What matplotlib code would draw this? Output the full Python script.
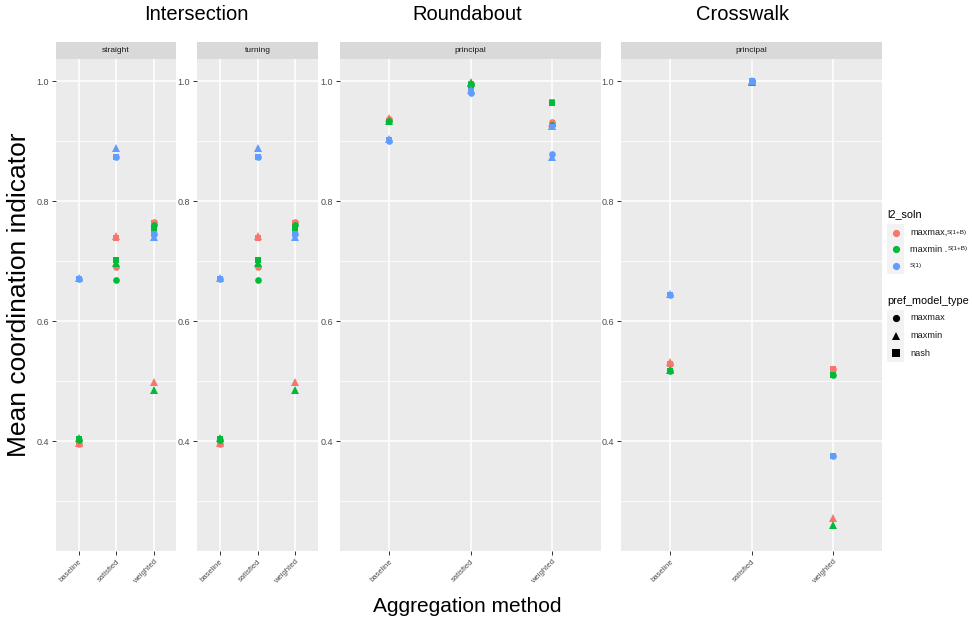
import numpy as np
import matplotlib.pyplot as plt

plt.rcParams['font.family'] = ['Liberation Sans', 'DejaVu Sans']

W, H = 972, 622
nan = np.nan

methods = ["baseline", "satisfied", "weighted"]
shape_labels = ["maxmax", "maxmin", "nash"]

# rows: circle (maxmax), triangle (maxmin), square (nash); columns follow methods
int_maxmax = [[0.395, 0.690, 0.766], [0.397, 0.742, 0.498], [0.396, 0.739, 0.763]]
int_maxmin = [[0.402, 0.669, 0.761], [0.405, 0.697, 0.486], [0.403, 0.702, 0.756]]
int_s1 = [[0.670, 0.873, 0.745], [0.672, 0.889, 0.740], [0.670, 0.873, 0.745]]

rb_maxmax = [[0.937, 0.996, 0.932], [0.938, 0.998, 0.930], [0.934, 0.995, 0.966]]
rb_maxmin = [[0.933, 0.995, 0.927], [0.934, 0.997, 0.926], [0.932, 0.994, 0.964]]
rb_s1 = [[0.901, 0.980, 0.879], [0.903, 0.986, 0.873], [0.902, 0.984, 0.924]]

cw_maxmax = [[0.529, 1.000, 0.521], [0.532, 1.000, 0.272], [0.529, 1.000, 0.521]]
cw_maxmin = [[0.517, 1.000, 0.511], [0.519, 0.998, 0.260], [0.517, 1.000, 0.511]]
cw_s1 = [[0.643, 1.000, 0.375], [0.645, 1.000, nan], [0.643, 1.000, 0.375]]

colors = ["#F8766D", "#00BA38", "#619CFF"]
markers = [("o", 4.8), ("^", 6.0), ("s", 5.0)]


def px(x0, y0, x1, y1):
    return [x0 / W, 1 - y1 / H, (x1 - x0) / W, (y1 - y0) / H]


fig = plt.figure(figsize=(W / 100, H / 100), dpi=100)

panels = [
    ("straight", 56, 176, [int_maxmax, int_maxmin, int_s1]),
    ("turning", 197, 318, [int_maxmax, int_maxmin, int_s1]),
    ("principal", 340, 601, [rb_maxmax, rb_maxmin, rb_s1]),
    ("principal", 621, 882, [cw_maxmax, cw_maxmin, cw_s1]),
]

xs = np.arange(1, len(methods) + 1)
for strip, x0, x1, groups in panels:
    ax = fig.add_axes(px(x0, 59, x1, 551))
    ax.set_facecolor("#EBEBEB")
    ax.set_xlim(0.4, 3.6)
    ax.set_ylim(0.217, 1.037)
    ax.set_yticks([0.4, 0.6, 0.8, 1.0])
    ax.set_yticks([0.3, 0.5, 0.7, 0.9], minor=True)
    ax.set_xticks(xs)
    ax.set_xticklabels(methods, rotation=45, ha="right", va="top",
                       rotation_mode="anchor", fontsize=5.5, color="#4D4D4D")
    ax.tick_params(axis="x", length=3, width=0.7, color="#333333", pad=2)
    ax.tick_params(axis="y", which="major", length=3, width=0.7, color="#333333",
                   labelsize=6.5, labelcolor="#4D4D4D", pad=2)
    ax.tick_params(axis="y", which="minor", length=0)
    ax.set_yticklabels(["0.4", "0.6", "0.8", "1.0"])
    ax.grid(True, which="major", color="white", linewidth=1.1)
    ax.grid(True, which="minor", axis="y", color="white", linewidth=0.55)
    ax.set_axisbelow(True)
    for s in ax.spines.values():
        s.set_visible(False)
    for c, grp in zip(colors, groups):
        for (m, ms), vals in zip(markers, grp):
            ax.plot(xs, vals, linestyle="none", marker=m, markersize=ms,
                    color=c, markeredgewidth=0, zorder=3)

    sax = fig.add_axes(px(x0, 42, x1, 59))
    sax.set_facecolor("#D9D9D9")
    sax.set_xticks([])
    sax.set_yticks([])
    for s in sax.spines.values():
        s.set_visible(False)
    sax.text(0.5, 0.5, strip, ha="center", va="center", fontsize=6,
             color="#1A1A1A", transform=sax.transAxes)

# plot titles
for label, xc in [("Intersection", 196), ("Roundabout", 467), ("Crosswalk", 743)]:
    fig.text(xc / W, 1 - 15 / H, label, ha="center", va="center", fontsize=14.5)

fig.text(19 / W, 1 - 295 / H, "Mean coordination indicator", rotation=90,
         ha="center", va="center", fontsize=19)
fig.text(467 / W, 1 - 606 / H, "Aggregation method", ha="center", va="center",
         fontsize=15)

# legends
fig.text(887 / W, 1 - 214 / H, "l2_soln", ha="left", va="center", fontsize=7.8)
lax = fig.add_axes(px(884, 224, 970, 365))
lax.set_xlim(884, 970)
lax.set_ylim(365, 224)
lax.axis("off")
soln_main = ["maxmax,", "maxmin .", ""]
soln_sub = ["S(1+B)", "S(1+B)", "S(1)"]
sub_x = [947, 948, 910]
rows1 = [232.5, 249.3, 266]
lax.add_patch(plt.Rectangle((887, 224), 17, 50, color="#F2F2F2", lw=0))
for y, c, main, sub, sx in zip(rows1, colors, soln_main, soln_sub, sub_x):
    lax.plot([896], [y], marker="o", markersize=5.2, color=c, markeredgewidth=0)
    if main:
        fig.text(910 / W, 1 - y / H, main, ha="left", va="center", fontsize=6.6,
                 color="#1A1A1A")
    fig.text(sx / W, 1 - (y - 0.5) / H, sub, ha="left", va="center",
             fontsize=4.6, color="#1A1A1A")

fig.text(887 / W, 1 - 301 / H, "pref_model_type", ha="left", va="center", fontsize=7.8)
rows2 = [318, 335.7, 353.3]
lax.add_patch(plt.Rectangle((887, 310), 17, 52, color="#F2F2F2", lw=0))
for y, (m, ms), lab in zip(rows2, markers, shape_labels):
    lax.plot([896], [y], marker=m, markersize=ms + 0.4, color="black",
             markeredgewidth=0)
    fig.text(910 / W, 1 - y / H, lab, ha="left", va="center", fontsize=6.6,
             color="#1A1A1A")

fig.savefig("out.png", dpi=100, facecolor="white")
